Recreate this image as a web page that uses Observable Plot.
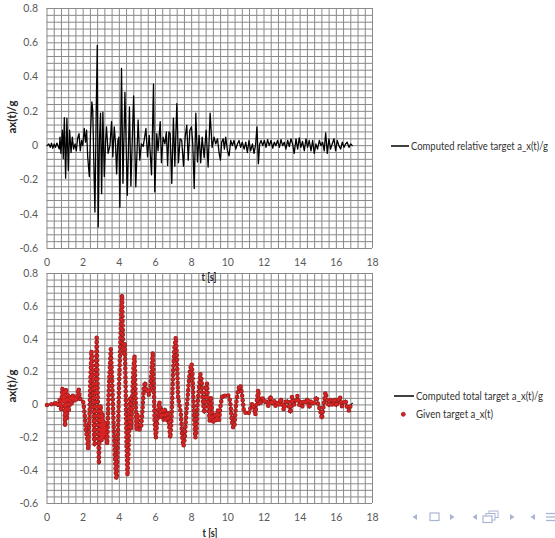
<!DOCTYPE html>
<html><head><meta charset="utf-8">
<script src="https://cdn.jsdelivr.net/npm/d3@7"></script>
<script src="https://cdn.jsdelivr.net/npm/@observablehq/plot@0.6"></script>
<style>
body{margin:0;background:#fff;}
#wrap{position:relative;width:555px;height:538px;overflow:hidden;background:#fff;}
#wrap svg{position:absolute;left:0;top:0;}
</style></head><body><div id="wrap"></div>
<script>
// ---- data ----
const xTicks = [0, 2, 4, 6, 8, 10, 12, 14, 16, 18];
const yTicks = [-0.6, -0.4, -0.2, 0, 0.2, 0.4, 0.6, 0.8];
const legendTop = ["Computed relative target a_x(t)/g"];
const legendBottom = ["Computed total target a_x(t)/g", "Given target a_x(t)"];
const yLabel = "ax(t)/g";
const xLabel = "t [s]";

// [t, a/g] computed relative target (top)
const relativeTarget = [
[0,0],[0.1,0.01],[0.18,-0.01],[0.25,0.015],[0.32,-0.015],[0.4,0.01],[0.47,-0.01],[0.55,0.015],[0.62,-0.005],[0.68,-0.02],
[0.72,0.05],[0.77,-0.045],[0.85,0.09],[0.9,-0.075],[0.96,0.163],[1.03,-0.19],[1.1,0.16],[1.18,-0.145],[1.25,0.09],[1.33,-0.04],
[1.4,0.05],[1.47,-0.02],[1.55,0.01],[1.62,-0.03],[1.69,0.04],[1.77,0.07],[1.84,-0.03],[1.91,0.03],[1.98,0.0],[2.06,0.1],
[2.13,0.02],[2.19,0.09],[2.25,-0.065],[2.34,-0.18],[2.41,0.09],[2.48,0.255],[2.53,0.205],[2.59,-0.1],[2.65,-0.387],[2.72,0.187],
[2.78,0.585],[2.83,-0.474],[2.9,0.03],[2.96,0.19],[3.02,-0.28],[3.09,0.196],[3.17,-0.18],[3.24,0.03],[3.29,0.11],[3.38,-0.045],
[3.48,0.0],[3.57,0.14],[3.64,-0.065],[3.72,0.11],[3.79,0.01],[3.85,-0.165],[3.92,0.03],[3.98,0.05],[4.03,-0.36],[4.12,0.45],
[4.2,-0.22],[4.31,0.31],[4.44,-0.29],[4.56,0.226],[4.64,-0.235],[4.79,0.29],[4.91,-0.24],[5.04,0.15],[5.13,-0.085],[5.22,0.01],
[5.32,-0.005],[5.47,0.1],[5.56,-0.065],[5.65,0.06],[5.78,-0.17],[5.89,0.36],[5.96,-0.27],[6.07,0.07],[6.14,-0.03],[6.26,0.14],
[6.33,-0.1],[6.42,0.05],[6.52,0.01],[6.6,0.08],[6.67,-0.115],[6.74,0.08],[6.81,0.07],[6.9,-0.22],[6.99,0.16],[7.07,-0.12],
[7.18,0.245],[7.27,-0.1],[7.36,0.04],[7.45,0.03],[7.55,-0.12],[7.64,0.05],[7.73,0.12],[7.81,-0.085],[7.9,0.09],[7.99,0.11],
[8.06,0.01],[8.14,-0.25],[8.23,0.19],[8.32,-0.095],[8.41,0.06],[8.5,-0.1],[8.58,0.05],[8.69,-0.07],[8.8,0.09],[8.91,-0.125],
[9.02,0.19],[9.13,-0.01],[9.24,0.05],[9.33,0.01],[9.43,0.04],[9.52,-0.045],[9.59,-0.085],[9.66,0.02],[9.74,0.04],[9.81,-0.02],
[9.88,0.05],[9.98,-0.03],[10.07,-0.06],[10.16,0.03],[10.25,0.0],[10.34,0.03],[10.44,-0.02],[10.53,0.01],[10.62,0.03],[10.71,-0.01],
[10.8,0.02],[10.9,-0.02],[10.99,0.02],[11.08,-0.04],[11.17,0.03],[11.26,-0.03],[11.36,0.01],[11.45,-0.045],[11.54,0.01],[11.61,0.11],
[11.69,-0.105],[11.76,0.01],[11.84,0.03],[11.93,0.0],[12.02,0.03],[12.11,-0.01],[12.2,0.035],[12.29,0.0],[12.39,0.03],[12.48,-0.015],
[12.57,0.02],[12.66,0.0],[12.75,0.03],[12.85,-0.01],[12.94,0.035],[13.03,0.0],[13.12,0.02],[13.21,-0.02],[13.31,0.03],[13.4,-0.005],
[13.49,0.04],[13.58,0.01],[13.67,-0.045],[13.77,0.04],[13.86,-0.02],[13.95,0.045],[14.04,-0.01],[14.13,0.025],[14.23,-0.03],[14.32,0.04],
[14.41,-0.01],[14.5,0.03],[14.6,-0.03],[14.69,0.03],[14.78,-0.045],[14.87,0.01],[14.96,-0.02],[15.06,0.03],[15.15,0.0],[15.24,0.02],
[15.33,-0.03],[15.41,0.075],[15.5,-0.045],[15.59,0.04],[15.68,-0.02],[15.77,0.01],[15.87,0.04],[15.96,-0.03],[16.05,0.03],[16.14,0.0],
[16.24,-0.02],[16.33,0.02],[16.42,-0.01],[16.51,0.01],[16.6,0.02],[16.7,-0.01],[16.79,0.01],[16.88,0.0]
];

// [t, a/g] given / computed total target (bottom)
const givenTarget = [
[0,0],[0.2,0.005],[0.4,0.0],[0.5,0.02],[0.6,-0.01],[0.7,0.03],[0.78,-0.03],[0.85,0.1],[0.9,0.02],[0.95,0.08],
[1.0,-0.13],[1.05,0.1],[1.1,-0.08],[1.15,0.06],[1.2,-0.04],[1.28,0.05],[1.35,0.0],[1.42,0.06],[1.5,0.02],[1.58,0.05],
[1.65,0.03],[1.75,0.1],[1.82,0.04],[1.9,0.03],[2.0,0.02],[2.08,-0.05],[2.15,-0.16],[2.22,-0.2],[2.28,-0.27],[2.34,-0.1],
[2.4,0.15],[2.46,0.33],[2.5,0.25],[2.55,0.1],[2.6,-0.2],[2.64,-0.25],[2.68,0.1],[2.75,0.41],[2.8,0.1],[2.87,-0.36],
[2.92,-0.1],[2.97,0.0],[3.02,-0.22],[3.07,-0.05],[3.12,-0.2],[3.18,-0.1],[3.25,-0.18],[3.33,-0.24],[3.4,0.05],[3.46,0.2],
[3.53,0.34],[3.6,0.15],[3.68,-0.1],[3.75,-0.3],[3.82,-0.44],[3.86,-0.45],[3.92,-0.2],[3.98,0.1],[4.05,0.35],[4.12,0.6],
[4.15,0.67],[4.2,0.4],[4.25,0.3],[4.3,0.38],[4.35,0.1],[4.4,-0.25],[4.45,-0.43],[4.5,-0.3],[4.55,-0.05],[4.6,0.05],
[4.65,-0.15],[4.7,0.0],[4.78,0.22],[4.84,0.3],[4.9,0.05],[4.95,-0.15],[5.0,-0.05],[5.05,-0.12],[5.12,-0.15],[5.2,-0.14],
[5.27,-0.05],[5.35,0.1],[5.42,0.14],[5.48,0.08],[5.55,0.1],[5.62,0.06],[5.7,0.08],[5.78,0.2],[5.85,0.32],[5.9,0.15],
[5.95,-0.1],[6.02,-0.2],[6.08,-0.12],[6.15,-0.03],[6.22,0.02],[6.3,-0.08],[6.38,-0.02],[6.45,-0.09],[6.52,-0.02],[6.6,-0.1],
[6.68,-0.04],[6.75,-0.12],[6.82,-0.2],[6.9,-0.05],[6.97,0.2],[7.05,0.35],[7.12,0.41],[7.18,0.3],[7.25,0.05],[7.32,0.0],
[7.4,-0.05],[7.48,-0.2],[7.55,-0.25],[7.62,-0.2],[7.7,-0.05],[7.78,0.05],[7.85,0.15],[7.92,0.22],[8.0,0.25],[8.05,0.18],
[8.12,-0.05],[8.2,-0.2],[8.26,-0.18],[8.32,0.0],[8.4,0.1],[8.48,0.19],[8.55,0.15],[8.62,0.02],[8.7,-0.05],[8.78,0.1],
[8.85,0.13],[8.92,0.0],[9.0,-0.1],[9.07,0.05],[9.15,-0.08],[9.22,-0.11],[9.3,-0.05],[9.38,-0.1],[9.45,-0.03],[9.52,-0.09],
[9.6,0.0],[9.7,0.06],[9.8,0.06],[9.9,0.05],[10.0,0.06],[10.08,0.05],[10.15,0.0],[10.22,-0.1],[10.3,-0.14],[10.37,-0.12],
[10.45,0.0],[10.55,0.08],[10.65,0.12],[10.72,0.11],[10.8,0.05],[10.88,-0.03],[10.95,-0.05],[11.05,-0.04],[11.15,-0.05],[11.25,-0.02],
[11.35,0.01],[11.45,-0.02],[11.52,-0.06],[11.6,0.02],[11.68,0.09],[11.75,0.0],[11.85,0.02],[11.95,0.045],[12.05,0.01],[12.15,0.02],
[12.25,-0.01],[12.35,0.055],[12.45,0.0],[12.55,0.03],[12.65,-0.01],[12.75,0.02],[12.85,0.0],[12.93,0.04],[13.03,-0.01],[13.1,-0.03],
[13.2,0.02],[13.3,0.03],[13.4,-0.02],[13.47,-0.05],[13.55,0.05],[13.65,0.0],[13.75,0.02],[13.85,0.055],[13.95,0.0],[14.05,0.02],
[14.12,-0.01],[14.22,0.03],[14.32,0.01],[14.42,0.04],[14.5,-0.02],[14.6,0.03],[14.7,0.0],[14.8,0.02],[14.9,0.05],[15.0,0.0],
[15.1,-0.03],[15.2,-0.085],[15.3,0.0],[15.4,0.077],[15.5,0.02],[15.6,-0.01],[15.7,0.03],[15.8,0.0],[15.9,0.04],[16.0,-0.01],
[16.1,0.03],[16.2,0.05],[16.3,-0.01],[16.4,0.01],[16.5,0.03],[16.6,-0.02],[16.7,-0.035],[16.8,0.0],[16.88,0.01]
];

// ---- drawing ----
const gridX = d3.range(0, 46).map(i => +(i * 0.4).toFixed(2));
const gridY = d3.range(0, 36).map(i => +(-0.6 + i * 0.04).toFixed(2));
const FONT = "Lato, 'Open Sans', sans-serif";
const GRID = "#8a8a8a";

function panel(marginTop, marginBottom, dataMarks) {
  return Plot.plot({
    width: 555, height: 538,
    marginLeft: 46.5, marginRight: 183, marginTop, marginBottom,
    x: {domain: [0, 18], ticks: xTicks, tickSize: 0, tickPadding: 10, tickFormat: d => String(d), label: null},
    y: {domain: [-0.6, 0.8], ticks: yTicks, tickSize: 0, tickPadding: 9, tickFormat: d => String(d), label: null},
    style: {background: "transparent", color: "#595959", fontFamily: FONT, fontSize: "10.5px", overflow: "visible"},
    marks: [
      Plot.ruleX(gridX, {stroke: GRID, strokeWidth: 1, strokeOpacity: 1}),
      Plot.ruleY(gridY, {stroke: GRID, strokeWidth: 1, strokeOpacity: 1}),
      ...dataMarks
    ]
  });
}

const X = d => d[0], Y = d => d[1];
const bottomChart = panel(273, 35, [
  Plot.line(givenTarget, {x: X, y: Y, stroke: "#000", strokeWidth: 1.2}),
  Plot.line(givenTarget, {x: X, y: Y, stroke: "#9e1e1e", strokeWidth: 4.6, strokeDasharray: "0 4.6", strokeLinecap: "round"}),
  Plot.line(givenTarget, {x: X, y: Y, stroke: "#d92222", strokeWidth: 2.9, strokeDasharray: "0 4.6", strokeLinecap: "round"})
]);
const topChart = panel(8, 290, [
  Plot.line(relativeTarget, {x: X, y: Y, stroke: "#000", strokeWidth: 1.3})
]);
const wrap = document.getElementById("wrap");
wrap.appendChild(bottomChart);
wrap.appendChild(topChart);

// overlay: axis titles, legends, navigation symbols
const ov = d3.select(wrap).append("svg").attr("width", 555).attr("height", 538)
  .style("font-family", FONT);

function ylab(cx, cy) {
  ov.append("text").attr("transform", `translate(${cx},${cy}) rotate(-90)`)
    .attr("text-anchor", "middle").attr("dy", "0.35em")
    .attr("font-size", 10.5).attr("font-weight", "bold").attr("fill", "#262626")
    .attr("textLength", 33).attr("lengthAdjust", "spacingAndGlyphs").text(yLabel);
}
function xlab(cx, cy) {
  ov.append("text").attr("x", cx).attr("y", cy).attr("text-anchor", "middle").attr("dy", "0.35em")
    .attr("font-size", 10.5).attr("font-weight", "bold").attr("fill", "#262626")
    .attr("textLength", 15).attr("lengthAdjust", "spacingAndGlyphs").text(xLabel);
}
ylab(12, 117); ylab(12, 386);
xlab(209, 277); xlab(210, 533);

function legText(x, y, len, s) {
  ov.append("text").attr("x", x).attr("y", y).attr("dy", "0.35em")
    .attr("font-size", 10.5).attr("fill", "#333")
    .attr("textLength", len).attr("lengthAdjust", "spacingAndGlyphs").text(s);
}
ov.append("line").attr("x1", 391).attr("x2", 409).attr("y1", 146).attr("y2", 146).attr("stroke", "#000").attr("stroke-width", 1.5);
legText(411, 146, 137, legendTop[0]);
ov.append("line").attr("x1", 394).attr("x2", 414).attr("y1", 396).attr("y2", 396).attr("stroke", "#000").attr("stroke-width", 1.5);
legText(416, 396, 127, legendBottom[0]);
ov.append("circle").attr("cx", 403.3).attr("cy", 414.3).attr("r", 2).attr("fill", "#d92222").attr("stroke", "#9e1e1e").attr("stroke-width", 0.8);
legText(416, 414.3, 77, legendBottom[1]);

// beamer navigation symbols
const nav = ov.append("g").attr("fill", "#a9b6d3").attr("stroke", "none");
function triL(x, y) { nav.append("path").attr("d", `M${x - 2.5},${y} L${x + 2},${y - 3} L${x + 2},${y + 3} Z`); }
function triR(x, y) { nav.append("path").attr("d", `M${x + 2.5},${y} L${x - 2},${y - 3} L${x - 2},${y + 3} Z`); }
triL(415, 517); triR(452, 517); triL(475, 517); triR(512, 517); triL(533, 517);
nav.append("rect").attr("x", 430).attr("y", 513).attr("width", 9).attr("height", 7.5).attr("fill", "none").attr("stroke", "#a9b6d3").attr("stroke-width", 1.2);
nav.append("rect").attr("x", 489).attr("y", 511).attr("width", 9).attr("height", 6.5).attr("fill", "none").attr("stroke", "#a9b6d3").attr("stroke-width", 1);
nav.append("rect").attr("x", 486).attr("y", 513.5).attr("width", 9).attr("height", 6.5).attr("fill", "#fff").attr("stroke", "#a9b6d3").attr("stroke-width", 1);
nav.append("rect").attr("x", 483).attr("y", 516).attr("width", 9).attr("height", 6.5).attr("fill", "#fff").attr("stroke", "#a9b6d3").attr("stroke-width", 1.2);
[513.5, 517, 520.5].forEach(y => nav.append("line").attr("x1", 546).attr("x2", 556).attr("y1", y).attr("y2", y).attr("stroke", "#a9b6d3").attr("stroke-width", 1.3));
</script>
</body></html>
